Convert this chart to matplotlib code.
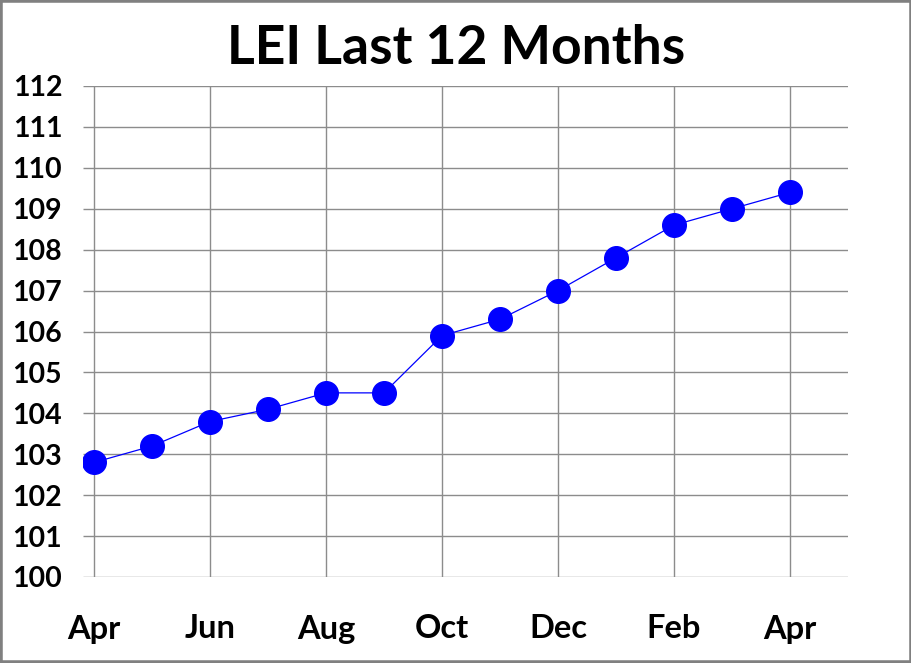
import numpy as np
import matplotlib
matplotlib.use("Agg")
import matplotlib.pyplot as plt
from matplotlib.patches import Rectangle

months = ["Apr", "May", "Jun", "Jul", "Aug", "Sep", "Oct",
          "Nov", "Dec", "Jan", "Feb", "Mar", "Apr"]
lei = [102.8, 103.2, 103.8, 104.1, 104.5, 104.5, 105.9,
       106.3, 107.0, 107.8, 108.6, 109.0, 109.4]
yticks = list(range(100, 113))

plt.rcParams.update({"font.family": ["Lato", "DejaVu Sans"],
                     "font.weight": "bold"})

fig = plt.figure(figsize=(9.12, 6.63), dpi=100)
ax = fig.add_axes([83/912, 1 - 577/663, (848 - 83)/912, (577 - 86)/663])

x = np.arange(len(lei))
ax.plot(x, lei, "-", color="#0000ff", lw=0.9)
ax.plot(x, lei, "o", color="#0000ff", ms=17, mec="#0000ff", zorder=3)

ax.set_xlim(-0.19, 13)
ax.set_ylim(100, 112)
ax.set_yticks(yticks)
ax.set_yticklabels([str(v) for v in yticks])
ax.set_xticks(x[::2])
ax.set_xticklabels(months[::2])
ax.tick_params(length=0, width=0)
ax.tick_params(axis="y", pad=15, labelsize=20.5)
ax.tick_params(axis="x", pad=27, labelsize=23.5)
for lab in ax.get_xticklabels() + ax.get_yticklabels():
    lab.set_fontweight("bold")
for s in ax.spines.values():
    s.set_visible(False)
ax.grid(True, color="#8c8c8c", lw=1.0, solid_capstyle="butt")
ax.set_axisbelow(True)

fig.text(0.5, 1 - 48/663, "LEI Last 12 Months", ha="center", va="center",
         fontsize=38.5, fontweight="bold")
fig.patches.append(Rectangle((0, 0), 1, 1, transform=fig.transFigure,
                             fill=False, ec="#808080", lw=4))

fig.savefig("out.png", dpi=100)
